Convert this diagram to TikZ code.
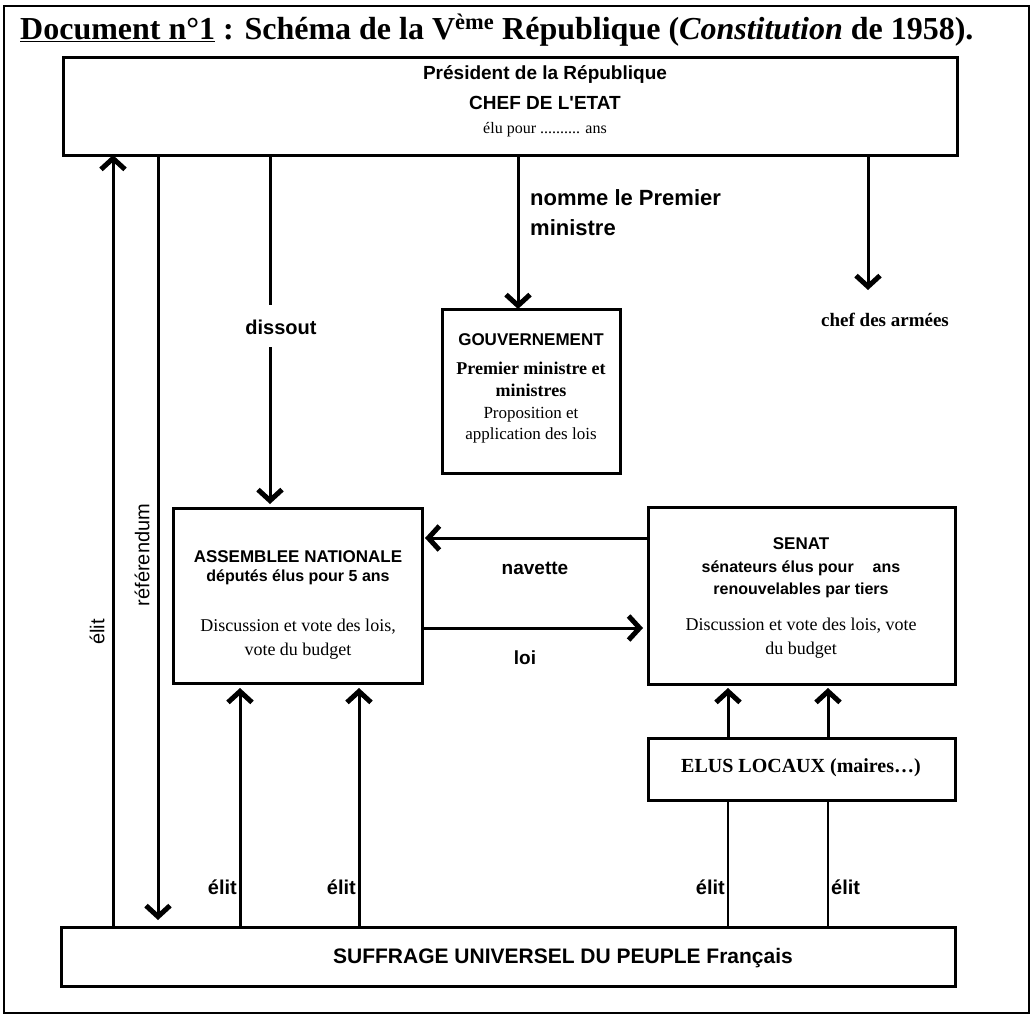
\documentclass[tikz,border=0pt]{standalone}
\usepackage{fontspec}
\setmainfont{Liberation Serif}
\setsansfont{Liberation Sans}[Ligatures=TeXOff]
\usetikzlibrary{arrows.meta}
\newcommand{\fs}[1]{\fontsize{#1}{#1}\selectfont}
\begin{document}
\begin{tikzpicture}[x=1pt,y=-1pt,
  box/.style={draw, line width=3pt, inner sep=0pt, outer sep=0pt, anchor=north west},
  conn/.style={line width=3pt},
  thinconn/.style={line width=2.2pt},
  arr/.style={conn, -{Straight Barb[length=11pt,width=24pt,line width=5pt]}},
  tx/.style={inner sep=0pt, align=center},
  sfb/.style={tx, font=\sffamily\bfseries\fs{#1}},
  sfr/.style={tx, font=\sffamily\fs{#1}},
  srb/.style={tx, font=\rmfamily\bfseries\fs{#1}},
  srr/.style={tx, font=\rmfamily\fs{#1}}]
\useasboundingbox (0,0) rectangle (1033,1017);
\node[draw, line width=2pt, inner sep=0pt, outer sep=0pt, anchor=north west,
  minimum width=1025, minimum height=1007] (frame) at (4,6) {};
\node[anchor=base west, inner sep=0pt, font=\rmfamily\bfseries\fs{32}] (title) at (20,39)
  {\underline{Document n°1} : Schéma de la V\textsuperscript{ème} République (\textit{Constitution} de 1958).};

% boxes
\node[box, minimum width=894, minimum height=98] (pres) at (63,57) {};
\node[box, minimum width=178, minimum height=164] (gouv) at (442,309) {};
\node[box, minimum width=249, minimum height=175] (ass) at (173,508) {};
\node[box, minimum width=307, minimum height=177] (sen) at (648,507) {};
\node[box, minimum width=307, minimum height=62] (elus) at (648,738) {};
\node[box, minimum width=894, minimum height=59] (suff) at (61,927) {};

% texts in boxes
\node[sfb=19] (presA) at (545,75) {Président de la République};
\node[sfb=19] (presB) at (545,103) {CHEF DE L'ETAT};
\node[srr=16] (presC) at (545,130) {élu pour .......... ans};
\node[sfb=17] (gouvA) at (531,340) {GOUVERNEMENT};
\node[srb=18, font=\rmfamily\bfseries\fontsize{18}{22}\selectfont] (gouvB) at (531,379) {Premier ministre et\\ministres};
\node[srr=17, font=\rmfamily\fontsize{17}{21}\selectfont] (gouvC) at (531,425) {Proposition et\\application des lois};
\node[sfb=17] (assA) at (298,557) {ASSEMBLEE NATIONALE};
\node[sfb=16] (assB) at (298,577) {députés élus pour 5 ans};
\node[srr=18, font=\rmfamily\fontsize{18}{24}\selectfont] (assC) at (298,639) {Discussion et vote des lois,\\vote du budget};
\node[sfb=17] (senA) at (801,544) {SENAT};
\node[sfb=16] (senB) at (801,568) {sénateurs élus pour\hspace{19pt}ans};
\node[sfb=16] (senC) at (801,590) {renouvelables par tiers};
\node[srr=18, font=\rmfamily\fontsize{18}{24}\selectfont] (senD) at (801,638) {Discussion et vote des lois, vote\\du budget};
\node[srb=20] (elusA) at (801,768) {ELUS LOCAUX (maires…)};
\node[sfb=21] (suffA) at (563,958) {SUFFRAGE UNIVERSEL DU PEUPLE Français};

% x positions of the vertical connectors
\coordinate (xa) at (113,0);
\coordinate (xb) at (158,0);
\coordinate (xf) at (240,0);
\coordinate (xg) at (359,0);
\coordinate (xh) at (728,0);
\coordinate (xi) at (828,0);
\coordinate (xd) at (518,0);
\coordinate (yn) at (0,538);
\coordinate (yl) at (0,628);
\coordinate (dA) at (270,305);
\coordinate (dB) at (270,347);
\coordinate (chefTip) at (868,290);

% connectors
\draw[arr] (suff.north -| xa) -- (pres.south -| xa);
\draw[arr, shorten >=7pt] (pres.south -| xb) -- (suff.north -| xb);
\draw[conn] (pres.south -| dA) -- (dA);
\draw[arr, shorten >=4pt] (dB) -- (ass.north -| dB);
\draw[arr] (pres.south -| xd) -- (gouv.north -| xd);
\draw[arr] (pres.south -| chefTip) -- (chefTip);
\draw[arr, shorten >=3pt] (sen.west |- yn) -- (ass.east |- yn);
\draw[arr, shorten >=5pt] (ass.east |- yl) -- (sen.west |- yl);
\draw[arr, shorten >=5pt] (suff.north -| xf) -- (ass.south -| xf);
\draw[arr, shorten >=5pt] (suff.north -| xg) -- (ass.south -| xg);
\draw[arr, shorten >=4pt] (elus.north -| xh) -- (sen.south -| xh);
\draw[arr, shorten >=4pt] (elus.north -| xi) -- (sen.south -| xi);
\draw[thinconn] (suff.north -| xh) -- (elus.south -| xh);
\draw[thinconn] (suff.north -| xi) -- (elus.south -| xi);

% connector labels
\node[sfr=20, rotate=90] (elitL) at (97,632) {élit};
\node[sfr=20, rotate=90] (refL) at (142,555) {référendum};
\node[sfb=20] (dissL) at (281,327) {dissout};
\node[sfb=22, anchor=west, align=left, font=\sffamily\bfseries\fontsize{22}{30}\selectfont] (nommeL) at (530,213) {nomme le Premier\\ministre};
\node[srb=19] (chefL) at (885,320) {chef des armées};
\node[sfb=19] (navL) at (535,568) {navette};
\node[sfb=19] (loiL) at (525,658) {loi};
\node[sfb=20, anchor=east] (elit1) at (237,887) {élit};
\node[sfb=20, anchor=east] (elit2) at (356,887) {élit};
\node[sfb=20, anchor=east] (elit3) at (725,887) {élit};
\node[sfb=20, anchor=west] (elit4) at (831,887) {élit};
\end{tikzpicture}
\end{document}
